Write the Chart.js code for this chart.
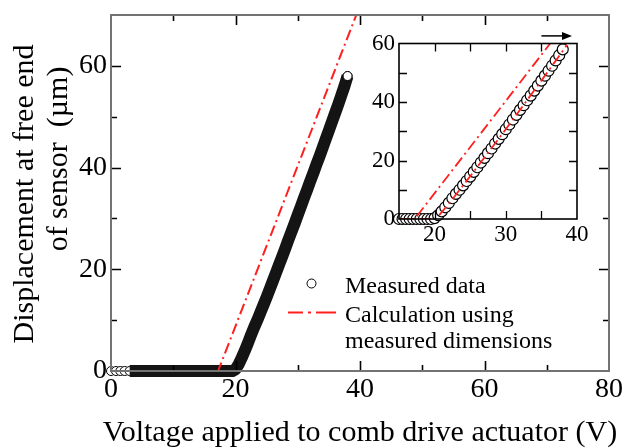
<!DOCTYPE html>
<html><head><meta charset="utf-8">
<script src="https://cdn.jsdelivr.net/npm/chart.js@4.4.1/dist/chart.umd.min.js"></script>
<style>
html,body{margin:0;padding:0;background:#fff;}
#wrap{position:relative;width:625px;height:448px;overflow:hidden;}
#main{position:absolute;left:0;top:0;}
#inset{position:absolute;left:355px;top:20px;}
</style></head><body>
<div id="wrap">
<canvas id="main" width="625" height="448"></canvas>
<canvas id="inset" width="240" height="240"></canvas>
</div>
<script>
// ---- data ----
const measuredV = [0,0.8,1.5,2.2,3,4,5,6,7,8,9,10,11,12,13,14,15,15.5,16,16.5,17,17.5,18,18.5,19,19.5,
  20,20.5,21,21.5,22,22.5,23,23.5,24,24.5,25,25.5,26,26.5,27,27.5,28,28.5,29,29.5,30,30.5,31,31.5,32,32.5,33,33.5,34,34.5,35,35.5,36,36.5,37,37.5,38];
const measuredD = [0,0,0,0,0,0,0,0,0,0,0,0,0,0,0,0,0,0,0,0,0,0,0,0,0,0,
  0.3,1.3,2.6,4.0,5.5,7.1,8.6,10.0,11.5,13.0,14.5,16.1,17.7,19.3,20.9,22.5,24.1,25.8,27.4,29.0,30.7,32.3,34.0,35.6,37.3,38.9,40.6,42.2,43.9,45.6,47.3,49.0,50.7,52.4,54.2,56.0,58.0];
const calcV = [0, 17.2, 39.4];
const calcD = [0, 0, 70];
const fitV = [15, 20.2, 22, 25, 30, 35, 38.6];
const fitD = [0, 0, 5.2, 14.6, 30.7, 47.3, 59.5];

const mainXTicks = [0, 20, 40, 60, 80];
const mainXMinor = [10, 30, 50, 70];
const mainYTicks = [0, 20, 40, 60];
const mainYMinor = [10, 30, 50];
const insetXTicks = [20, 30, 40];
const insetXMarks = [20, 25, 30, 35];
const insetYTicks = [0, 20, 40, 60];
const insetYMarks = [10, 20, 30, 40, 50];
const arrowV = [35, 39.3];
const arrowLevel = 62.6;

const xTitle = 'Voltage applied to comb drive actuator (V)';
const yTitle = ['Displacement at free end', 'of sensor  (µm)'];
const legendMeasured = 'Measured data';
const legendCalc = ['Calculation using', 'measured dimensions'];

// ---- styling ----
const FONT = "'Liberation Serif', 'Times New Roman', serif";
const RED = '#ff1f1f';
const DASH = [11, 4, 2, 4];

const pts = (xs, ys) => xs.map((v, i) => ({x: v, y: ys[i]}));
const measuredPts = pts(measuredV, measuredD);
const bandPts = measuredPts.filter(p => p.x >= 3);
const endPts = measuredPts.slice(-1);
const insetPts = measuredPts.filter(p => p.x >= 15);
const calcPts = pts(calcV, calcD);
const fitPts = pts(fitV, fitD);

function drawFrameTicks(chart, o) {
  const {ctx, chartArea: a, scales: {x, y}} = chart;
  ctx.save();
  ctx.strokeStyle = '#000';
  ctx.lineWidth = o.tickWidth;
  ctx.beginPath();
  const xs = (list, len) => list.forEach(v => {
    const px = Math.round(x.getPixelForValue(v)) + 0.5;
    if (px <= a.left + 1 || px >= a.right - 1) return;
    ctx.moveTo(px, a.bottom); ctx.lineTo(px, a.bottom - len);
    ctx.moveTo(px, a.top); ctx.lineTo(px, a.top + len);
  });
  const ys = (list, len) => list.forEach(v => {
    const py = Math.round(y.getPixelForValue(v)) + 0.5;
    if (py <= a.top + 1 || py >= a.bottom - 1) return;
    ctx.moveTo(a.left, py); ctx.lineTo(a.left + len, py);
    ctx.moveTo(a.right, py); ctx.lineTo(a.right - len, py);
  });
  xs(o.xMajor, o.majorLen); xs(o.xMinor, o.minorLen);
  ys(o.yMajor, o.majorLen); ys(o.yMinor, o.minorLen);
  ctx.stroke();
  ctx.strokeStyle = o.frameColor;
  ctx.lineWidth = o.frameWidth;
  ctx.strokeRect(a.left, a.top, a.right - a.left, a.bottom - a.top);
  // tick labels, placed by the library's scales
  ctx.fillStyle = '#000';
  ctx.font = o.labelSize + 'px ' + FONT;
  ctx.textBaseline = 'middle';
  ctx.textAlign = 'center';
  x.ticks.forEach(t => ctx.fillText(String(t.value), x.getPixelForValue(t.value), a.bottom + o.xLabelGap));
  ctx.textAlign = 'right';
  y.ticks.forEach(t => ctx.fillText(String(t.value), a.left - o.yLabelGap, y.getPixelForValue(t.value)));
  ctx.restore();
}

const mainDeco = {
  id: 'mainDeco',
  afterDatasetsDraw(chart) {
    drawFrameTicks(chart, {xMajor: mainXTicks, xMinor: mainXMinor, yMajor: mainYTicks, yMinor: mainYMinor,
      majorLen: 10, minorLen: 6, tickWidth: 1.6, frameColor: '#737373', frameWidth: 2,
      labelSize: 28, xLabelGap: 19, yLabelGap: 4});
  },
  afterDraw(chart) {
    const {ctx, chartArea: a} = chart;
    ctx.save();
    ctx.fillStyle = '#000';
    ctx.font = '30px ' + FONT;
    ctx.textAlign = 'center';
    ctx.textBaseline = 'alphabetic';
    ctx.fillText(xTitle, (a.left + a.right) / 2, 441);
    ctx.save(); ctx.translate(33, 194); ctx.rotate(-Math.PI / 2); ctx.fillText(yTitle[0], 0, 0); ctx.restore();
    ctx.save(); ctx.translate(67, 159); ctx.rotate(-Math.PI / 2); ctx.fillText(yTitle[1], 0, 0); ctx.restore();
    const ds = chart.data.datasets;
    ctx.font = '24px ' + FONT;
    ctx.textAlign = 'left';
    ctx.beginPath();
    ctx.arc(311.5, 283.5, 4.5, 0, Math.PI * 2);
    ctx.fillStyle = ds[3].pointBackgroundColor; ctx.fill();
    ctx.strokeStyle = ds[3].pointBorderColor; ctx.lineWidth = 1; ctx.stroke();
    ctx.fillStyle = '#000';
    ctx.fillText(legendMeasured, 345, 292.5);
    ctx.save();
    ctx.strokeStyle = ds[0].borderColor; ctx.lineWidth = ds[0].borderWidth;
    ctx.setLineDash([15, 5, 3, 5, 20]);
    ctx.beginPath(); ctx.moveTo(288, 312.5); ctx.lineTo(341, 312.5); ctx.stroke();
    ctx.restore();
    ctx.fillText(legendCalc[0], 345, 321.5);
    ctx.fillText(legendCalc[1], 345, 347.5);
    ctx.restore();
  }
};

const insetDeco = {
  id: 'insetDeco',
  afterDatasetsDraw(chart) {
    drawFrameTicks(chart, {xMajor: insetXMarks, xMinor: [], yMajor: insetYMarks, yMinor: [],
      majorLen: 8, minorLen: 8, tickWidth: 1.3, frameColor: '#000', frameWidth: 1.6,
      labelSize: 23, xLabelGap: 16, yLabelGap: 4});
  },
  afterDraw(chart) {
    const {ctx, scales: {x, y}} = chart;
    const x0 = x.getPixelForValue(arrowV[0]), x1 = x.getPixelForValue(arrowV[1]);
    const py = y.getPixelForValue(arrowLevel);
    ctx.save();
    ctx.strokeStyle = '#000'; ctx.fillStyle = '#000'; ctx.lineWidth = 1.5;
    ctx.beginPath(); ctx.moveTo(x0, py); ctx.lineTo(x1 - 8, py); ctx.stroke();
    ctx.beginPath(); ctx.moveTo(x1, py); ctx.lineTo(x1 - 10, py - 4); ctx.lineTo(x1 - 10, py + 4); ctx.closePath(); ctx.fill();
    ctx.restore();
  }
};

function build() {
  Chart.defaults.font.family = FONT;
  Chart.defaults.color = '#000';

  new Chart(document.getElementById('main'), {
    type: 'scatter',
    data: {
      datasets: [
        {label: 'Calculation using measured dimensions', data: calcPts, showLine: true, borderColor: RED, borderWidth: 2,
         borderDash: DASH, pointRadius: 0, clip: 0, order: 0},
        {label: 'end', data: endPts, showLine: false, pointRadius: 4.5, pointBackgroundColor: '#ffffff',
         pointBorderColor: '#000000', pointBorderWidth: 1, clip: false, order: 1},
        {label: 'band', data: bandPts, showLine: true, borderColor: '#141414', borderWidth: 12, pointRadius: 0,
         borderJoinStyle: 'round', clip: false, order: 2},
        {label: 'Measured data', data: measuredPts, showLine: false, pointRadius: 4.5, pointBackgroundColor: '#ffffff',
         pointBorderColor: '#000000', pointBorderWidth: 1, clip: false, order: 3}
      ]
    },
    options: {
      responsive: false, animation: false, devicePixelRatio: 1,
      layout: {padding: {left: 0, right: 16, top: 15, bottom: 0}},
      plugins: {legend: {display: false}, tooltip: {enabled: false}},
      scales: {
        x: {type: 'linear', min: 0, max: 80,
            afterBuildTicks: s => { s.ticks = mainXTicks.map(v => ({value: v})); },
            afterFit: s => { s.height = 77; },
            grid: {display: false, drawTicks: false}, border: {display: false},
            ticks: {display: false}},
        y: {type: 'linear', min: 0, max: 70,
            afterBuildTicks: s => { s.ticks = mainYTicks.map(v => ({value: v})); },
            afterFit: s => { s.width = 111; },
            grid: {display: false, drawTicks: false}, border: {display: false},
            ticks: {display: false}}
      }
    },
    plugins: [mainDeco]
  });

  new Chart(document.getElementById('inset'), {
    type: 'scatter',
    data: {
      datasets: [
        {label: 'Calculation', data: calcPts, showLine: true, borderColor: RED, borderWidth: 1.8, borderDash: DASH,
         pointRadius: 0, clip: 0, order: 0},
        {label: 'Fit', data: fitPts, showLine: true, borderColor: RED, borderWidth: 1.8, borderDash: DASH,
         pointRadius: 0, clip: 0, order: 1},
        {label: 'Measured data', data: insetPts, showLine: false, pointRadius: 5.5, pointBackgroundColor: '#ffffff',
         pointBorderColor: '#000000', pointBorderWidth: 1.2, clip: false, order: 2}
      ]
    },
    options: {
      responsive: false, animation: false, devicePixelRatio: 1,
      layout: {padding: {left: 0, right: 18, top: 23.5, bottom: 0}},
      plugins: {legend: {display: false}, tooltip: {enabled: false}},
      scales: {
        x: {type: 'linear', min: 15, max: 40,
            afterBuildTicks: s => { s.ticks = insetXTicks.map(v => ({value: v})); },
            afterFit: s => { s.height = 41; },
            grid: {display: false, drawTicks: false}, border: {display: false},
            ticks: {display: false}},
        y: {type: 'linear', min: 0, max: 60,
            afterBuildTicks: s => { s.ticks = insetYTicks.map(v => ({value: v})); },
            afterFit: s => { s.width = 44; },
            grid: {display: false, drawTicks: false}, border: {display: false},
            ticks: {display: false}}
      }
    },
    plugins: [insetDeco]
  });
}

const fontReady = (document.fonts && document.fonts.load)
  ? Promise.all([document.fonts.load("27px 'Liberation Serif'"), document.fonts.load("30px 'Liberation Serif'")]).catch(() => null)
  : Promise.resolve();
fontReady.then(build, build);
</script>
</body></html>
